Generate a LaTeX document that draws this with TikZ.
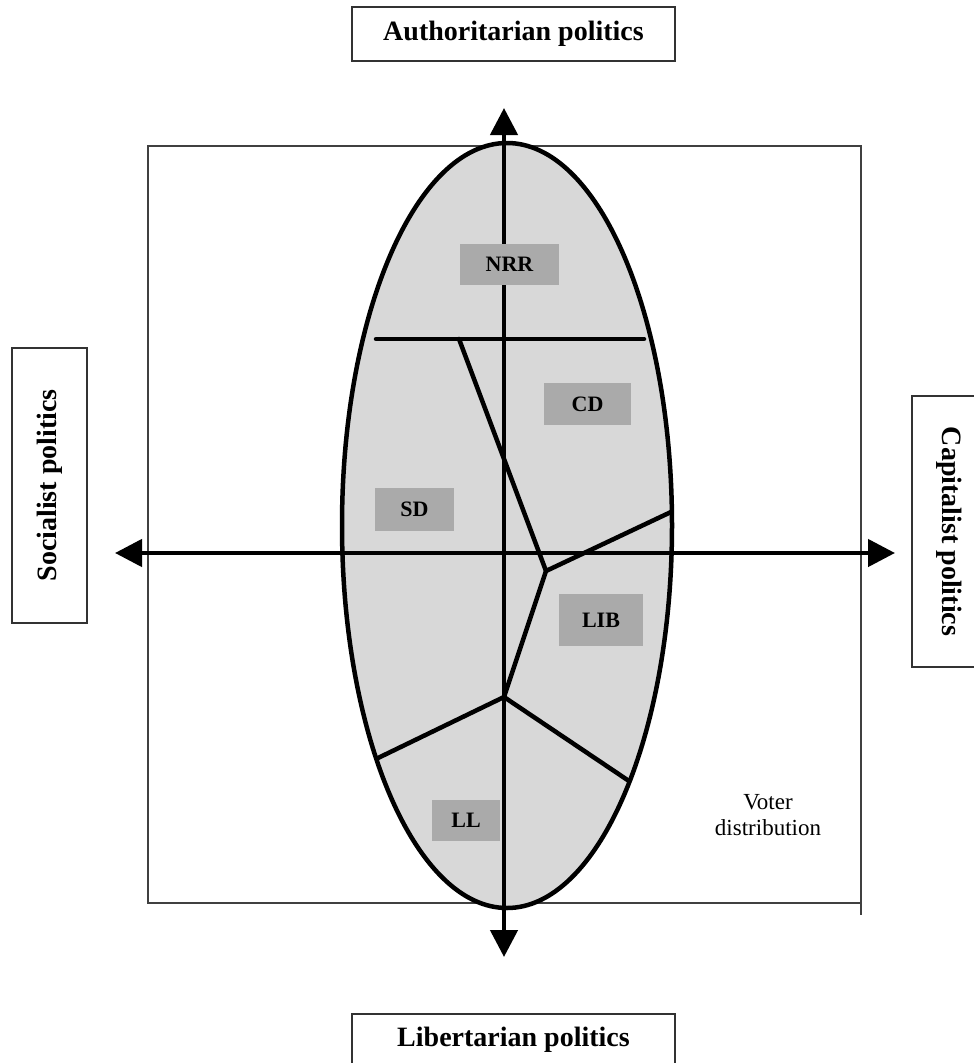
\documentclass[tikz,border=0pt]{standalone}
\usepackage{fontspec}
\setmainfont{Liberation Serif}
\usetikzlibrary{arrows.meta}
\definecolor{ellfill}{RGB}{216,216,216}
\definecolor{labfill}{RGB}{170,170,170}
\definecolor{boxline}{RGB}{50,50,50}
\tikzset{
  titlebox/.style={draw=boxline, line width=2pt, inner sep=0pt, font=\fontsize{28}{32}\selectfont\bfseries},
  partybox/.style={fill=labfill, inner sep=0pt, font=\fontsize{22}{26}\selectfont\bfseries},
  axisline/.style={line width=4.5pt, {Triangle[width=27pt,length=27pt]}-{Triangle[width=27pt,length=27pt]}},
  border/.style={line width=4.5pt, line cap=round, line join=round},
  frameline/.style={line width=2pt, draw=black!75}
}
\begin{document}
\begin{tikzpicture}[x=1pt,y=-1pt]
\useasboundingbox (0,0) rectangle (974,1063);
% frame
\draw[frameline] (148,146) rectangle (861,903);
\draw[frameline] (861,903) -- (861,915);
% title boxes
\node[titlebox, minimum width=323pt, minimum height=54pt] (auth) at (513.5,34) {Authoritarian politics};
\node[titlebox, minimum width=323pt, minimum height=52pt] (lib) at (513.5,1040) {Libertarian politics};
\node[titlebox, rotate=90, minimum width=275pt, minimum height=75pt] (soc) at (49.5,485.5) {Socialist politics};
\node[titlebox, rotate=-90, minimum width=271pt, minimum height=74pt] (cap) at (949,531.5) {Capitalist politics};
% ellipse
\draw[fill=ellfill, line width=4.5pt] (507,525.5) ellipse [x radius=165, y radius=382.5];
% axes
\coordinate (top) at (504,108);
\coordinate (bot) at (504,957);
\coordinate (lft) at (115,553);
\coordinate (rgt) at (895,553);
\draw[axisline] (bot) -- (top);
\draw[axisline] (lft) -- (rgt);
% region boundaries
\coordinate (h1) at (376,339);
\coordinate (h2) at (644,339);
\coordinate (d1) at (459,339);
\coordinate (j1) at (546,571);
\coordinate (e1) at (671,512);
\coordinate (j2) at (504,697);
\coordinate (e2) at (378,758);
\coordinate (e3) at (629,781);
\draw[border] (h1) -- (h2);
\draw[border] (d1) -- (j1) -- (e1);
\draw[border] (j1) -- (j2);
\draw[border] (e2) -- (j2) -- (e3);
% party labels
\node[partybox, minimum width=99pt, minimum height=41pt] (nrr) at (509.5,264.5) {NRR};
\node[partybox, minimum width=87pt, minimum height=42pt] (cd) at (587.5,404) {CD};
\node[partybox, minimum width=79pt, minimum height=43pt] (sd) at (414.5,509.5) {SD};
\node[partybox, minimum width=84pt, minimum height=52pt] (lb) at (601,620) {LIB};
\node[partybox, minimum width=68pt, minimum height=41pt] (ll) at (466,820.5) {LL};
% voter distribution
\node[align=center, inner sep=0pt, font=\fontsize{23}{26}\selectfont] (vd) at (768,815) {Voter\\distribution};
\end{tikzpicture}
\end{document}
